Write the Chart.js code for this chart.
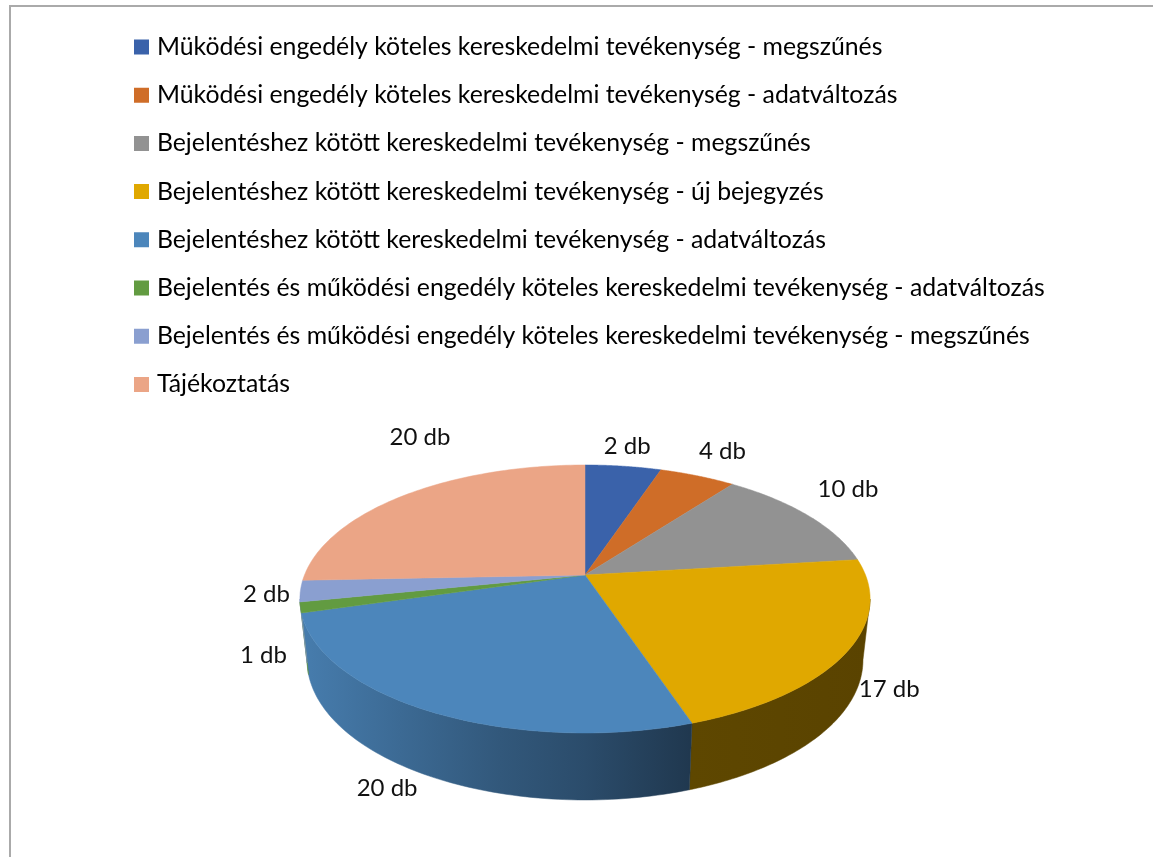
<!DOCTYPE html>
<html>
<head>
<meta charset="utf-8">
<style>
  html, body { margin: 0; padding: 0; background: #fff; overflow: hidden; }
  #frame { position: absolute; left: 9px; top: 5px; right: 0; bottom: 0; border-left: 2px solid #aaa; border-top: 2px solid #aaa; }
  #pie { position: absolute; left: 0; top: 0; }
</style>
<script src="https://cdn.jsdelivr.net/npm/chart.js@4"></script>
</head>
<body>
<div id="frame"></div>
<canvas id="pie" width="1153" height="857"></canvas>
<script>
const categories = [
  "Müködési engedély köteles kereskedelmi tevékenység - megszűnés",
  "Müködési engedély köteles kereskedelmi tevékenység - adatváltozás",
  "Bejelentéshez kötött kereskedelmi tevékenység - megszűnés",
  "Bejelentéshez kötött kereskedelmi tevékenység - új bejegyzés",
  "Bejelentéshez kötött kereskedelmi tevékenység - adatváltozás",
  "Bejelentés és működési engedély köteles kereskedelmi tevékenység - adatváltozás",
  "Bejelentés és működési engedély köteles kereskedelmi tevékenység - megszűnés",
  "Tájékoztatás"
];
// slice sizes as drawn: the first slice is as wide as the "4 db" one although its label says 2
const sliceValues = [4, 4, 10, 17, 20, 1, 2, 20];
const sliceLabels = ["2 db", "4 db", "10 db", "17 db", "20 db", "1 db", "2 db", "20 db"];
const sliceColors = ["#3a62aa", "#cf6d28", "#929292", "#e0a800", "#4c86bb", "#629b41", "#8a9fd0", "#eba586"];

// tilted pie geometry
const CX = 585, CY = 575, RX = 280.5, RY = 129.7, PERSP = 0.179;
const FONT = "Lato";
// label nudge from the rim point at the middle of each slice
const labelNudge = [[4, -20], [25, -25], [40, -26], [42, 38], [-43, 77], [-37, 48], [-34, 3], [15, -58]];
// side wall brightness from left to right
const wallShade = [[300, 0.93], [400, 0.79], [500, 0.66], [585, 0.57], [690, 0.42], [870, 0.40]];

function rimPoint(a) {
  const w = 1 - PERSP * Math.sin(a);
  return { x: CX + RX * Math.cos(a) / w, y: CY + RY * Math.sin(a) / w };
}

function lowerPoint(a) {
  const p = rimPoint(a);
  return { x: CX + (p.x - CX) * 0.975, y: p.y + 59.5 + 7.5 * Math.sin(a) };
}

function shaded(hex, f) {
  const n = parseInt(hex.slice(1), 16);
  return "rgb(" + Math.round((n >> 16) * f) + "," + Math.round(((n >> 8) & 255) * f) + "," + Math.round((n & 255) * f) + ")";
}

function drawWall(ctx, arc) {
  const frontStart = Math.asin(PERSP), frontEnd = Math.PI - frontStart;
  const from = Math.max(arc.startAngle, frontStart), to = Math.min(arc.endAngle, frontEnd);
  if (to <= from) return;
  const color = arc.options.backgroundColor;
  const grad = ctx.createLinearGradient(300, 0, 870, 0);
  wallShade.forEach(s => grad.addColorStop((s[0] - 300) / 570, shaded(color, s[1])));
  ctx.beginPath();
  for (let i = 0; i <= 80; i++) {
    const p = rimPoint(from + (to - from) * i / 80);
    ctx.lineTo(p.x, p.y);
  }
  for (let i = 80; i >= 0; i--) {
    const p = lowerPoint(from + (to - from) * i / 80);
    ctx.lineTo(p.x, p.y);
  }
  ctx.closePath();
  ctx.fillStyle = grad;
  ctx.strokeStyle = grad;
  ctx.lineWidth = 0.5;
  ctx.fill();
  ctx.stroke();
}

function drawTop(ctx, arc) {
  ctx.beginPath();
  ctx.moveTo(CX, CY);
  for (let i = 0; i <= 80; i++) {
    const p = rimPoint(arc.startAngle + (arc.endAngle - arc.startAngle) * i / 80);
    ctx.lineTo(p.x, p.y);
  }
  ctx.closePath();
  ctx.fillStyle = arc.options.backgroundColor;
  ctx.strokeStyle = arc.options.backgroundColor;
  ctx.lineWidth = 0.5;
  ctx.fill();
  ctx.stroke();
}

// canvas can't do a perspective transform, so the arcs are redrawn here from the angles the library worked out
const tiltedPie = {
  id: "tiltedPie",
  beforeDatasetsDraw(chart) {
    const ctx = chart.ctx;
    const arcs = chart.getDatasetMeta(0).data;
    ctx.save();
    arcs.forEach(arc => drawWall(ctx, arc));
    arcs.forEach(arc => drawTop(ctx, arc));
    ctx.font = "24px " + FONT;
    ctx.fillStyle = "#111";
    ctx.textAlign = "center";
    ctx.textBaseline = "middle";
    arcs.forEach((arc, i) => {
      const p = rimPoint((arc.startAngle + arc.endAngle) / 2);
      ctx.fillText(sliceLabels[i], p.x + labelNudge[i][0], p.y + labelNudge[i][1]);
    });
    ctx.restore();
    return false;
  }
};

new Chart(document.getElementById("pie"), {
  type: "pie",
  data: {
    labels: categories,
    datasets: [{ data: sliceValues, backgroundColor: sliceColors, borderWidth: 0 }]
  },
  options: {
    responsive: false,
    animation: false,
    events: [],
    layout: { padding: { left: 115.1, top: 11.2 } },
    plugins: {
      tooltip: { enabled: false },
      legend: {
        position: "top",
        align: "start",
        labels: {
          // small box with a thick stroke: keeps the text close to the 15px swatch
          boxWidth: 6,
          boxHeight: 6,
          padding: 23.4,
          color: "#111",
          font: { family: FONT, size: 24.8 },
          generateLabels: chart => chart.data.labels.map((text, i) => ({
            text: text,
            fillStyle: sliceColors[i],
            strokeStyle: sliceColors[i],
            lineWidth: 9,
            index: i
          }))
        }
      }
    }
  },
  plugins: [tiltedPie]
});
</script>
</body>
</html>
